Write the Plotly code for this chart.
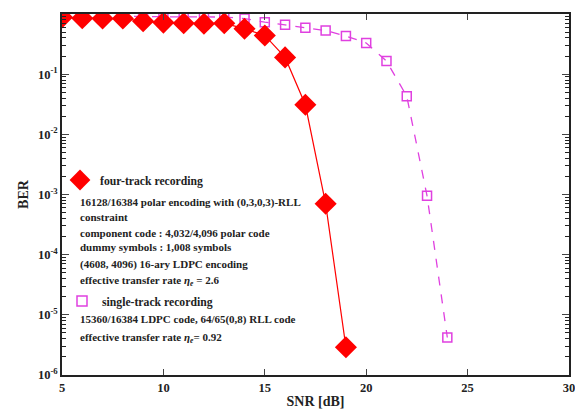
import plotly.graph_objects as go

snr_four = [5, 6, 7, 8, 9, 10, 11, 12, 13, 14, 15, 16, 17, 18, 19]
ber_four = [0.88, 0.85, 0.84, 0.84, 0.76, 0.72, 0.70, 0.69, 0.70, 0.57, 0.44,
            0.19, 0.031, 7.0e-4, 2.9e-6]

snr_single = [5, 6, 7, 8, 9, 10, 11, 12, 13, 14, 15, 16, 17, 18, 19, 20, 21, 22, 23, 24]
ber_single = [0.93, 0.93, 0.92, 0.92, 0.91, 0.90, 0.90, 0.90, 0.89, 0.84, 0.73,
              0.66, 0.59, 0.53, 0.43, 0.33, 0.165, 0.043, 9.5e-4, 4.2e-6]

x_ticks = [5, 10, 15, 20, 25, 30]
y_tickvals = [1, 1e-1, 1e-2, 1e-3, 1e-4, 1e-5, 1e-6]
y_ticktext = ["1", "10<sup>-1</sup>", "10<sup>-2</sup>", "10<sup>-3</sup>",
              "10<sup>-4</sup>", "10<sup>-5</sup>", "10<sup>-6</sup>"]

name_four = "four-track recording"
name_single = "single-track recording"
desc_four = [
    "16128/16384 polar encoding with (0,3,0,3)-RLL",
    "constraint",
    "component code : 4,032/4,096 polar code",
    "dummy symbols : 1,008 symbols",
    "(4608, 4096) 16-ary LDPC encoding",
    "effective transfer rate <i>η<sub>e</sub></i> = 2.6",
]
desc_single = [
    "15360/16384 LDPC code, 64/65(0,8) RLL code",
    "effective transfer rate <i>η<sub>e</sub></i>= 0.92",
]

FONT = "Liberation Serif"
RED = "#ff0000"
PINK = "#e040e0"

fig = go.Figure()
fig.add_trace(go.Scatter(
    x=snr_single, y=ber_single, mode="lines+markers", showlegend=False,
    line=dict(color=PINK, width=1.3, dash="dash"),
    marker=dict(symbol="square-open", size=9, color=PINK, line=dict(width=1.5)),
))
fig.add_trace(go.Scatter(
    x=snr_four, y=ber_four, mode="lines+markers", showlegend=False,
    line=dict(color=RED, width=1.2),
    marker=dict(symbol="diamond", size=17, color=RED),
))
# legend-only entries (marker symbol only, as in the reference legend)
fig.add_trace(go.Scatter(
    x=[None], y=[None], mode="markers", name=name_four, showlegend=True,
    marker=dict(symbol="diamond", size=16, color=RED), legend="legend",
))
fig.add_trace(go.Scatter(
    x=[None], y=[None], mode="markers", name=name_single, showlegend=True,
    marker=dict(symbol="square-open", size=10, color=PINK, line=dict(width=1.5)),
    legend="legend2",
))

# page has an 8px body margin: figure is offset by (8, 8)
OFF = 8
PL, PR, PT, PB = 62, 569, 14, 375   # plot area in page pixels
W, H = 575, 404
L, T = PL - OFF, PT - OFF
R = W - (PR - OFF)
B = H - (PB - OFF)
pw, ph = PR - PL, PB - PT

def px(xp):
    return (xp - PL) / pw

def py(yp):
    return (PB - yp) / ph

annotations = []
ys_four = [202, 217, 233, 247, 264, 281]
for txt, yy in zip(desc_four, ys_four):
    annotations.append(dict(text="<b>" + txt + "</b>", x=px(78), y=py(yy), xref="paper", yref="paper",
                            xanchor="left", yanchor="middle", showarrow=False,
                            font=dict(family=FONT, size=11, color="#222")))
ys_single = [319, 338]
for txt, yy in zip(desc_single, ys_single):
    annotations.append(dict(text="<b>" + txt + "</b>", x=px(78), y=py(yy), xref="paper", yref="paper",
                            xanchor="left", yanchor="middle", showarrow=False,
                            font=dict(family=FONT, size=11, color="#222")))

minor_y = []
for e in range(-6, 0):
    for m in range(2, 10):
        minor_y.append(m * 10 ** e)

leg_font = dict(family=FONT, size=11.7, color="#222", weight="bold")
fig.update_layout(
    width=W, height=H,
    margin=dict(l=L, r=R, t=T, b=B, autoexpand=False),
    plot_bgcolor="white", paper_bgcolor="white",
    showlegend=True,
    font=dict(family=FONT, size=12, color="#222"),
    annotations=annotations,
    legend=dict(x=px(60), y=py(180), xanchor="left", yanchor="middle",
                bgcolor="rgba(0,0,0,0)", font=leg_font, itemwidth=30,
                itemsizing="trace"),
    legend2=dict(x=px(62), y=py(301), xanchor="left", yanchor="middle",
                 bgcolor="rgba(0,0,0,0)", font=leg_font, itemwidth=30,
                 itemsizing="trace"),
    xaxis=dict(range=[5, 30], tickvals=x_ticks, ticks="inside", ticklen=6,
               showline=True, linecolor="#222", linewidth=1.5, mirror="ticks",
               showgrid=False, zeroline=False, automargin=False,
               tickfont=dict(family=FONT, size=12.5, color="#222", weight="bold"),
               title=dict(text="<b>SNR [dB]</b>", font=dict(family=FONT, size=14, color="#222"), standoff=2)),
    yaxis=dict(type="log", range=[-6, 0], tickvals=y_tickvals, ticktext=y_ticktext,
               ticks="inside", ticklen=7, showline=True, linecolor="#222", linewidth=1.5,
               mirror="ticks", showgrid=False, zeroline=False, automargin=False,
               tickfont=dict(family=FONT, size=12.5, color="#222", weight="bold"),
               minor=dict(tickvals=minor_y, ticks="inside", ticklen=4, tickcolor="#222", showgrid=False),
               title=dict(text="<b>BER</b>", font=dict(family=FONT, size=14, color="#222"), standoff=6)),
)

fig.write_html("out.html")
